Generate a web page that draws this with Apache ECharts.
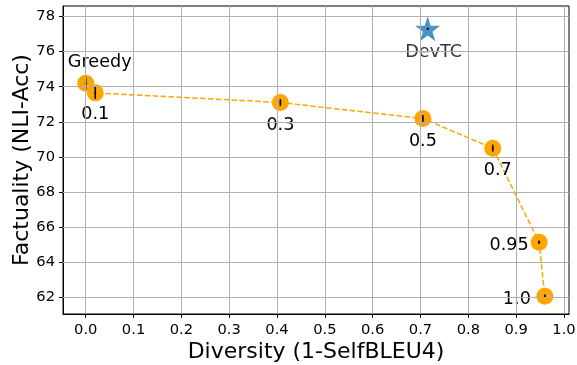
<!DOCTYPE html>
<html><head><meta charset="utf-8">
<script src="https://cdn.jsdelivr.net/npm/echarts@6/dist/echarts.min.js"></script>
<style>html,body{margin:0;padding:0;background:#fff}#c{width:577px;height:365px}</style>
</head><body><div id="c"></div>
<script>
// Data
const names = ['Greedy', '0.1', '0.3', '0.5', '0.7', '0.95', '1.0'];
const diversity = [0.0, 0.02, 0.407, 0.705, 0.851, 0.948, 0.96];
const factuality = [74.2, 73.65, 73.1, 72.19, 70.5, 65.14, 62.06];
const factErr = [0.35, 0.35, 0.2, 0.2, 0.2, 0.1, 0.1];
const devtcName = 'DevTC';
const devtcDiversity = [0.715];
const devtcFactuality = [77.3];
const devtcErr = [0.05];
const xTicks = [0.0, 0.1, 0.2, 0.3, 0.4, 0.5, 0.6, 0.7, 0.8, 0.9, 1.0];
const yTicks = [62, 64, 66, 68, 70, 72, 74, 76, 78];

// Styles (label offsets relative to marker centre, in px)
const labelOffsets = [[14, -21], [0, 22], [0, 23], [0, 23], [5, 22], [-30, 3], [-28, 3]];
const devtcOffset = [6, 24];
const font = 'DejaVu Sans';

const pts = diversity.map((x, i) => [x, factuality[i]]);
const errPts = diversity.map((x, i) => [x, factuality[i], factErr[i]])
  .concat(devtcDiversity.map((x, i) => [x, devtcFactuality[i], devtcErr[i]]));

const gridLineStyle = { color: '#b0b0b0', width: 1, type: 'solid' };
const gridLines = xTicks.map(v => ({ xAxis: v }))
  .concat(yTicks.map(v => ({ yAxis: v })));

const chart = echarts.init(document.getElementById('c'));
chart.setOption({
  animation: false,
  grid: { left: 63, right: 8, top: 6, bottom: 51, show: true, borderColor: '#000', borderWidth: 1,
    containLabel: false, outerBoundsMode: 'none' },
  xAxis: {
    type: 'value', min: -0.0475, max: 1.0105,
    name: 'Diversity (1-SelfBLEU4)', nameLocation: 'middle', nameGap: 27, nameMoveOverlap: false,
    nameTextStyle: { fontFamily: font, fontSize: 22, color: '#000' },
    axisLine: { show: true, onZero: false, lineStyle: { color: '#000' } },
    axisTick: { show: true, length: 4, inside: false, lineStyle: { color: '#000' }, customValues: xTicks },
    axisLabel: { customValues: xTicks, fontFamily: font, fontSize: 14.7, color: '#000', margin: 9,
      formatter: v => v.toFixed(1) },
    splitLine: { show: false }
  },
  yAxis: {
    type: 'value', min: 61.05, max: 78.6,
    name: 'Factuality (NLI-Acc)', nameLocation: 'middle', nameGap: 30, nameRotate: 90, nameMoveOverlap: false,
    nameTextStyle: { fontFamily: font, fontSize: 22, color: '#000' },
    axisLine: { show: true, onZero: false, lineStyle: { color: '#000' } },
    axisTick: { show: true, length: 4, lineStyle: { color: '#000' }, customValues: yTicks },
    axisLabel: { customValues: yTicks, fontFamily: font, fontSize: 14.7, color: '#000', margin: 8,
      formatter: v => String(Math.round(v)) },
    splitLine: { show: false }
  },
  series: [
    {
      type: 'line', data: [], z: 1, silent: true,
      markLine: { silent: true, symbol: ['none', 'none'], label: { show: false },
        lineStyle: gridLineStyle, emphasis: { disabled: true }, data: gridLines }
    },
    {
      type: 'line', data: pts, showSymbol: false, symbol: 'none', z: 2,
      lineStyle: { color: '#FFA500', width: 1.5, type: [5.5, 2.4] }
    },
    {
      type: 'scatter', data: pts.map((p, i) => ({
        value: p,
        label: { show: true, position: 'inside', offset: labelOffsets[i], formatter: names[i] }
      })),
      symbol: 'circle', symbolSize: 17, z: 3,
      itemStyle: { color: '#FFA500', opacity: 1 },
      label: { fontFamily: font, fontSize: 17.6, color: '#000' }
    },
    {
      type: 'scatter', data: devtcDiversity.map((x, i) => [x, devtcFactuality[i]]),
      symbol: 'path://M50,0 L61.2,34.5 L97.6,34.5 L68.2,55.9 L79.4,90.5 L50,69.1 L20.6,90.5 L31.8,55.9 L2.4,34.5 L38.8,34.5 Z',
      symbolSize: 25, z: 3,
      itemStyle: { color: '#1f77b4' },
      label: { show: true, position: 'inside', offset: devtcOffset, formatter: devtcName,
        fontFamily: font, fontSize: 17.6, color: '#000' }
    },
    {
      type: 'custom', z: 4, data: errPts,
      renderItem: (params, api) => {
        const x = api.value(0), y = api.value(1), e = api.value(2);
        const a = api.coord([x, y - e]), b = api.coord([x, y + e]);
        const c = api.coord([x, y]);
        return { type: 'group', children: [
          { type: 'line', shape: { x1: a[0], y1: a[1], x2: b[0], y2: b[1] }, style: { stroke: '#000', lineWidth: 1.5 } },
          { type: 'circle', shape: { cx: c[0], cy: c[1], r: 1 }, style: { fill: '#000' } }
        ] };
      }
    }
  ]
});
</script></body></html>
